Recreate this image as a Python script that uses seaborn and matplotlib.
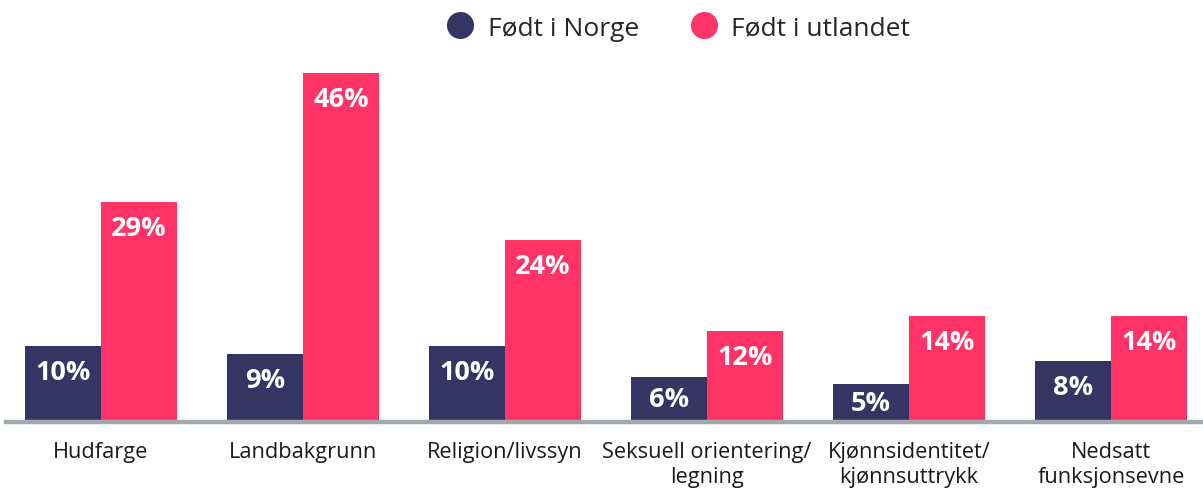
import matplotlib
matplotlib.use("Agg")
import matplotlib.pyplot as plt
from matplotlib.lines import Line2D
import seaborn as sns
import pandas as pd

categories = ["Hudfarge", "Landbakgrunn", "Religion/livssyn",
              "Seksuell orientering/\nlegning", "Kjønnsidentitet/\nkjønnsuttrykk",
              "Nedsatt\nfunksjonsevne"]
series_names = ["Født i Norge", "Født i utlandet"]
norge = [10, 9, 10, 6, 5, 8]
utlandet = [29, 46, 24, 12, 14, 14]
colors = ["#363463", "#FF3366"]

df = pd.DataFrame({
    "kategori": categories * 2,
    "gruppe": [series_names[0]] * len(categories) + [series_names[1]] * len(categories),
    "verdi": norge + utlandet,
})

sns.set_theme(style="white")
plt.rcParams["font.family"] = ["Open Sans", "DejaVu Sans"]

fig = plt.figure(figsize=(12.03, 4.89), dpi=100)
ax = fig.add_axes([6 / 1203, 66 / 489, 1 - 6 / 1203, (423 - 44) / 489])

sns.barplot(data=df, x="kategori", y="verdi", hue="gruppe", order=categories,
            hue_order=series_names, palette=colors, width=0.752, saturation=1,
            linewidth=0, ax=ax, legend=False)

ax.set_ylim(0, 50)
ax.set_xlim((6 - 101) / 202, (1203 - 101) / 202)
ax.set_xlabel("")
ax.set_ylabel("")
ax.set_yticks([])
for s in ["top", "left", "right"]:
    ax.spines[s].set_visible(False)
ax.spines["bottom"].set_color("#9FA9AE")
ax.spines["bottom"].set_linewidth(3.2)
ax.tick_params(axis="x", length=0, pad=14, labelsize=15.7, colors="#1a1a1a")
for lbl in ax.get_xticklabels():
    lbl.set_linespacing(1.2)
    lbl.set_verticalalignment("top")

for cont in ax.containers:
    for bar in cont:
        h = bar.get_height()
        x = bar.get_x() + bar.get_width() / 2
        y = max(h - 3.4, h / 2)
        ax.text(x, y, f"{h:.0f}%", ha="center", va="center", color="white",
                fontsize=19.5, fontweight="bold")

handles = [Line2D([0], [0], marker="o", linestyle="", markersize=19.5,
                  markerfacecolor=c, markeredgewidth=0) for c in colors]
fig.legend(handles, series_names, loc="center", bbox_to_anchor=(678 / 1203, 1 - 29 / 489),
           ncol=2, frameon=False, fontsize=19, handletextpad=0.5, columnspacing=1.9,
           handlelength=1.1)

fig.savefig("out.png", dpi=100)
